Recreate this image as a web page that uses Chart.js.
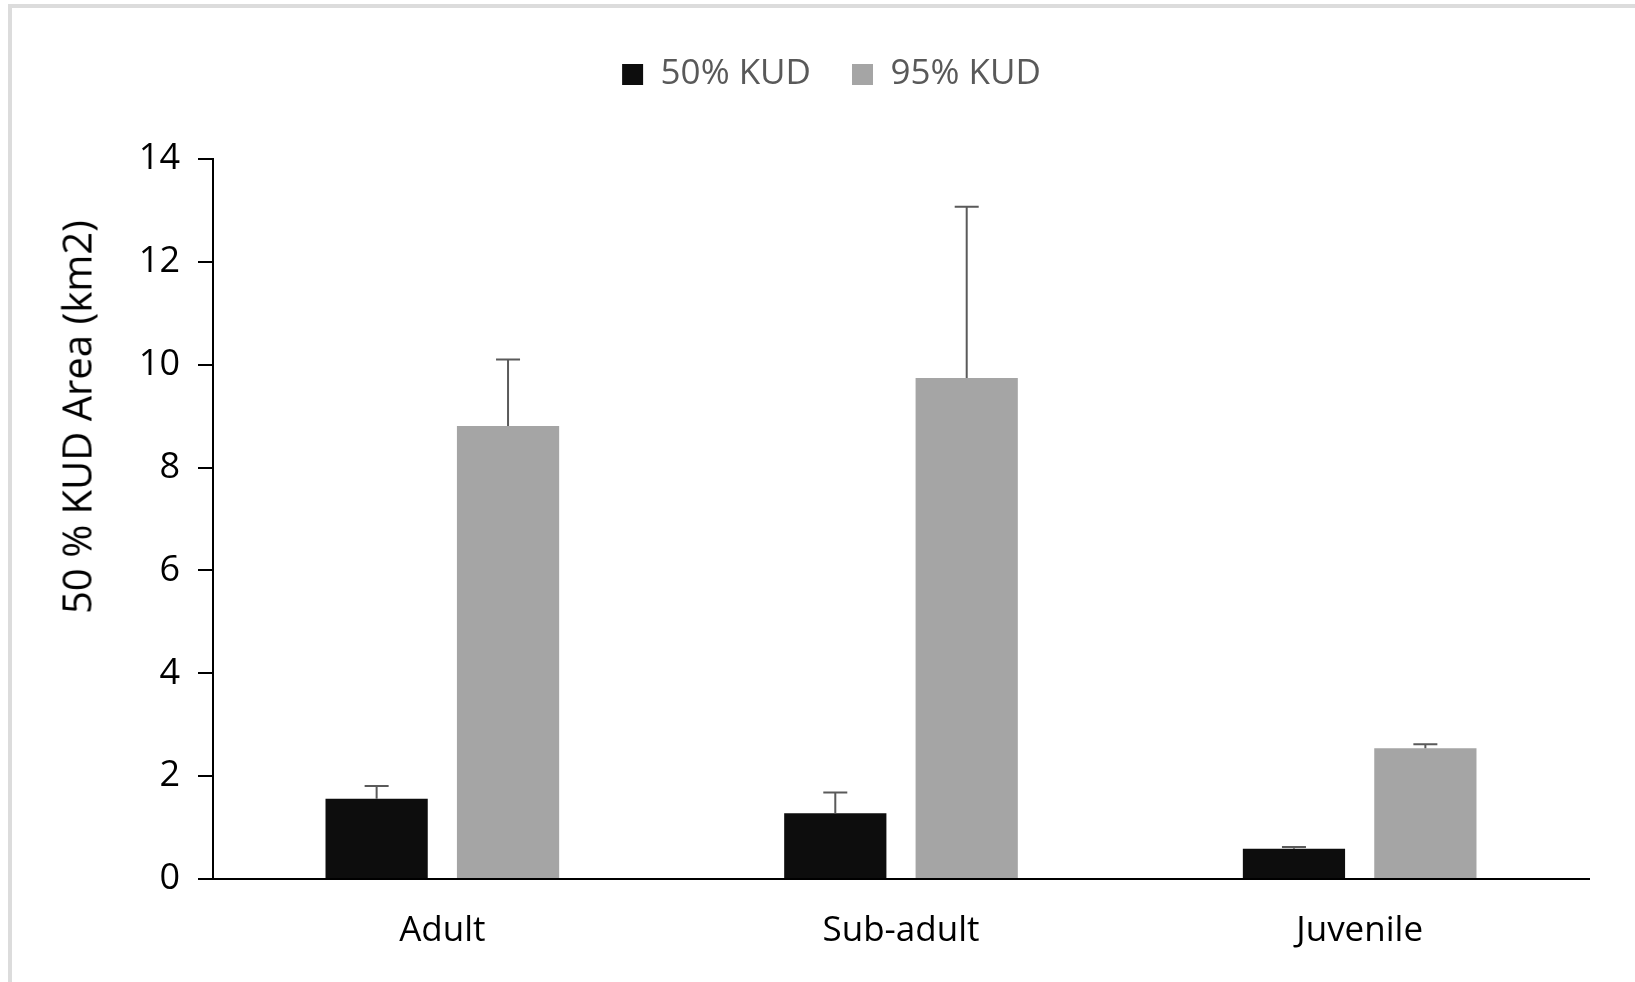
<!DOCTYPE html>
<html>
<head>
<meta charset="utf-8">
<script src="https://cdn.jsdelivr.net/npm/chart.js@4/dist/chart.umd.min.js"></script>
<style>
  html, body { margin: 0; padding: 0; background: #fff; }
  #wrap { position: relative; width: 1635px; height: 982px; overflow: hidden; }
  #frame { position: absolute; left: 8px; top: 4px; width: 1700px; height: 1100px; border-top: 4px solid #dcdcdc; border-left: 4px solid #dcdcdc; box-sizing: border-box; }
  canvas { position: absolute; left: 0; top: 0; }
  #ytitle { position: absolute; left: 76px; top: 417px; transform: translate(-50%, -50%) rotate(-90deg); white-space: nowrap; font-family: "Open Sans", sans-serif; font-size: 40px; color: #000; }
</style>
</head>
<body>
<div id="wrap">
  <div id="frame"></div>
  <canvas id="c" width="1635" height="982"></canvas>
  <div id="ytitle">50 % KUD Area (km2)</div>
</div>
<script>
const categories = ["Adult", "Sub-adult", "Juvenile"];
const seriesNames = ["50% KUD", "95% KUD"];
const kud50 = [1.56, 1.28, 0.59];
const kud95 = [8.81, 9.74, 2.54];
const err50 = [0.25, 0.40, 0.03];
const err95 = [1.29, 3.33, 0.08];
const yTicks = [0, 2, 4, 6, 8, 10, 12, 14];

const errors = [err50, err95];

const errorBarPlugin = {
  id: 'errorBars',
  afterDatasetsDraw(chart) {
    const ctx = chart.ctx;
    const yScale = chart.scales.y;
    chart.data.datasets.forEach((ds, di) => {
      const meta = chart.getDatasetMeta(di);
      meta.data.forEach((bar, i) => {
        const v = ds.data[i];
        const e = errors[di][i];
        const x = bar.x;
        const y0 = yScale.getPixelForValue(v);
        const y1 = yScale.getPixelForValue(v + e);
        ctx.save();
        ctx.strokeStyle = '#5a5a5a';
        ctx.lineWidth = 2;
        ctx.beginPath();
        ctx.moveTo(x, y0);
        ctx.lineTo(x, y1);
        ctx.moveTo(x - 12, y1);
        ctx.lineTo(x + 12, y1);
        ctx.stroke();
        ctx.restore();
      });
    });
  }
};

const legendGap = {
  id: 'legendGap',
  beforeInit(chart) {
    const orig = chart.legend.fit;
    chart.legend.fit = function () {
      orig.call(this);
      this.height += 57;
    };
  }
};

new Chart(document.getElementById('c'), {
  type: 'bar',
  data: {
    labels: categories,
    datasets: [
      { label: seriesNames[0], data: kud50, backgroundColor: '#0d0d0d', borderWidth: 0 },
      { label: seriesNames[1], data: kud95, backgroundColor: '#a5a5a5', borderWidth: 0 }
    ]
  },
  options: {
    responsive: false,
    animation: false,
    devicePixelRatio: 1,
    layout: { padding: { top: 16, right: 46, bottom: 0, left: 74 } },
    datasets: { bar: { categoryPercentage: 0.573, barPercentage: 0.778 } },
    plugins: {
      legend: {
        position: 'top',
        labels: {
          color: '#595959',
          font: { family: 'Open Sans', size: 35 },
          boxWidth: 21,
          boxHeight: 21,
          padding: 41
        }
      },
      tooltip: { enabled: false }
    },
    scales: {
      x: {
        grid: { display: false },
        border: { display: true, color: '#000', width: 2 },
        ticks: { color: '#000', font: { family: 'Open Sans', size: 35 }, padding: 23 },
        afterFit(s) { s.height = 103; }
      },
      y: {
        min: 0, max: 14,
        afterBuildTicks(s) { s.ticks = yTicks.map(v => ({ value: v })); },
        grid: { drawOnChartArea: false, drawTicks: true, tickLength: 15, color: '#000', lineWidth: 2 },
        border: { display: true, color: '#000', width: 2 },
        ticks: { color: '#000', font: { family: 'Open Sans', size: 36 }, padding: 18 },
        afterFit(s) { s.width = 139; }
      }
    }
  },
  plugins: [errorBarPlugin, legendGap]
});
</script>
</body>
</html>
